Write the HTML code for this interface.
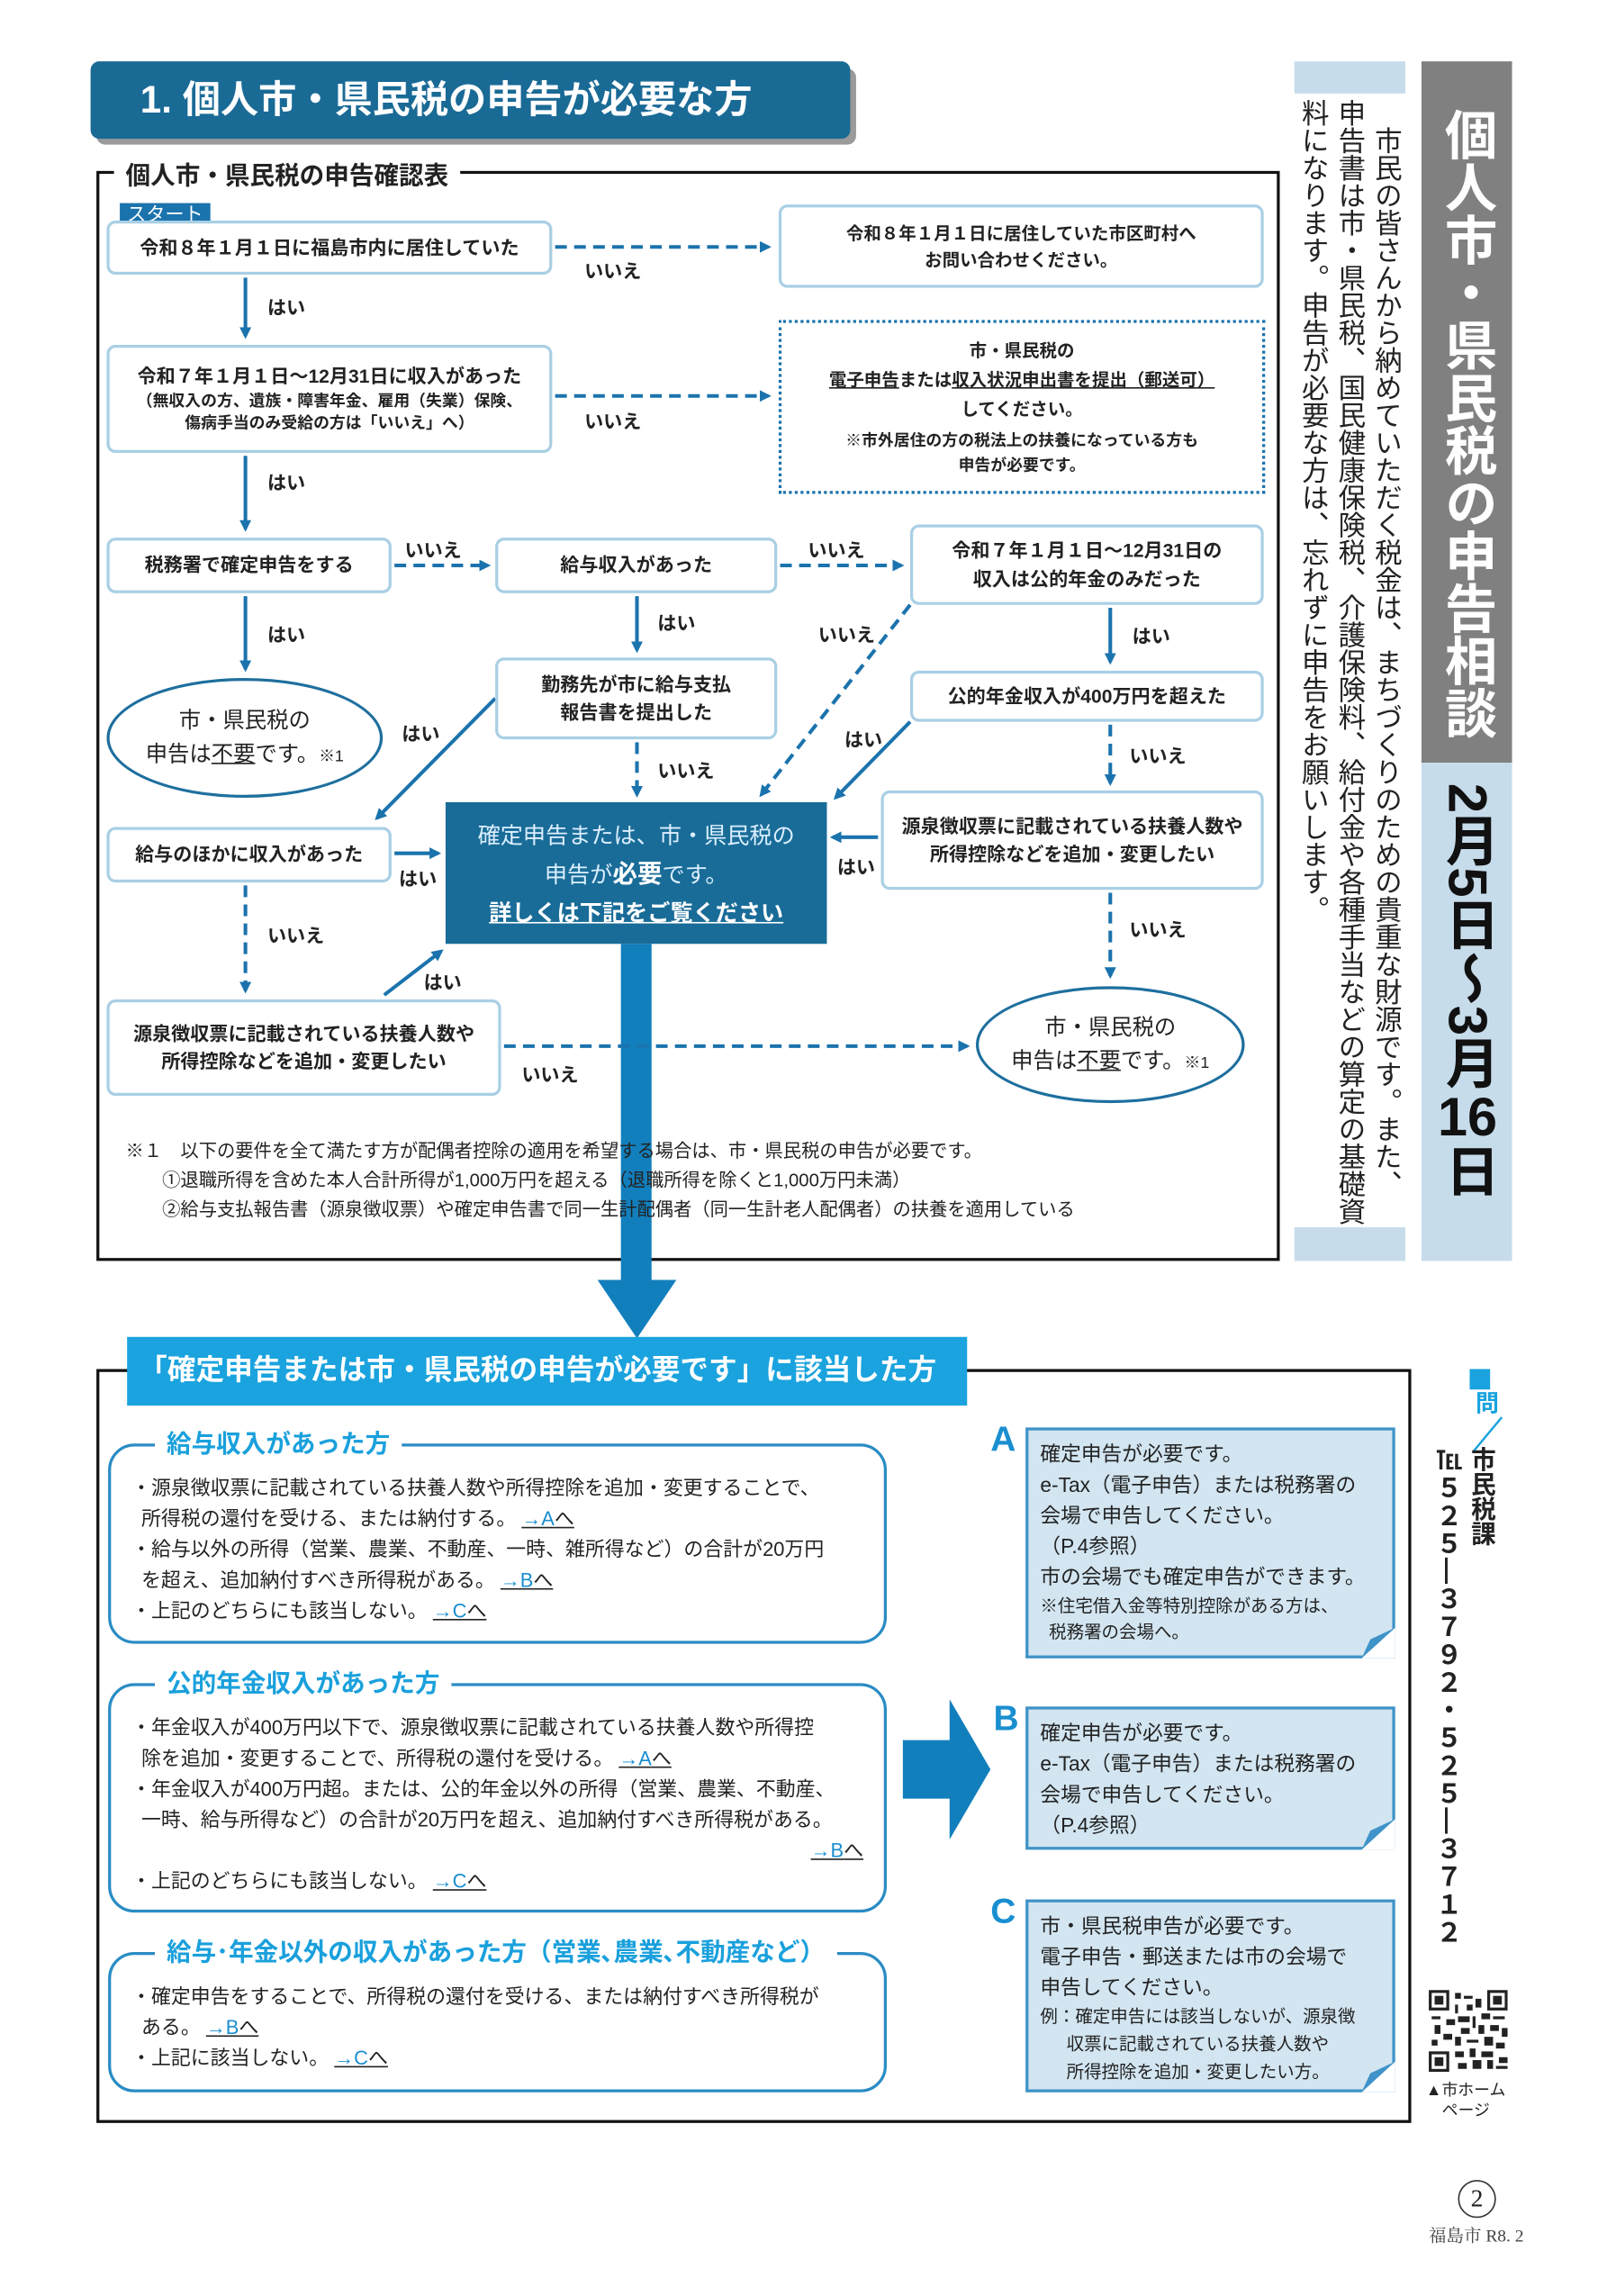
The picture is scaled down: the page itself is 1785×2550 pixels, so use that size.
<!DOCTYPE html>
<html><head><meta charset="utf-8">
<style>
html,body{margin:0;padding:0;background:#fff;}
body{width:1785px;height:2550px;overflow:hidden;position:relative;}
#s{position:absolute;left:0;top:0;width:1100px;height:1571px;transform:scale(1.62273);transform-origin:0 0;font-family:"Liberation Sans","Noto Sans CJK JP",sans-serif;color:#222;}
.a{position:absolute;}
.bx{position:absolute;box-sizing:border-box;border:2px solid #a9cfe4;border-radius:6px;background:#fff;font-weight:bold;font-size:13px;display:flex;flex-direction:column;align-items:center;justify-content:center;text-align:center;line-height:1.5;}
.ell{position:absolute;box-sizing:border-box;border:2px solid #1e6f9e;border-radius:50%;background:#fff;font-size:15px;display:flex;flex-direction:column;align-items:center;justify-content:center;text-align:center;line-height:1.55;}
.lb{position:absolute;font-size:13px;font-weight:bold;}
.sec{position:absolute;box-sizing:border-box;border:2px solid #2a8cc4;border-radius:18px;font-size:13.5px;line-height:21px;padding:14px 14px 0 14px;}
.st{position:absolute;background:#fff;color:#1aa0dc;font-size:17px;font-weight:bold;padding:0 8px;}
.lk{color:#1a8fd0;text-decoration:underline;text-decoration-color:#222;}
.abc{position:absolute;box-sizing:border-box;background:#d2e5f1;border:2px solid #3f93c8;font-size:14px;line-height:21px;padding:6px 8px;}
.L{position:absolute;color:#1a8fd0;font-size:24px;font-weight:bold;}
.v{writing-mode:vertical-rl;}
</style></head><body><div id="s">

<div class="a" style="left:66px;top:47px;width:520px;height:52px;background:#9a9a9a;border-radius:6px;"></div>
<div class="a" style="left:62px;top:42px;width:520px;height:53px;background:#1a6a96;border-radius:6px;color:#fff;font-size:26px;font-weight:bold;line-height:53px;padding-left:34px;box-sizing:border-box;">1. 個人市・県民税の申告が必要な方</div>

<div class="a" style="left:66px;top:117px;width:810px;height:746px;border:2px solid #111;box-sizing:border-box;"></div>
<div class="a" style="left:78px;top:106px;background:#fff;padding:0 8px;font-size:17px;font-weight:bold;">個人市・県民税の申告確認表</div>

<div class="a" style="left:425px;top:646px;width:21px;height:232px;background:#127fbd;"></div>
<div class="a" style="left:409px;top:876px;width:0;height:0;border-left:27px solid transparent;border-right:27px solid transparent;border-top:40px solid #127fbd;"></div>

<svg class="a" style="left:0;top:0" width="1100" height="1000">
<defs><marker id="m" markerWidth="8" markerHeight="8" refX="6" refY="4" orient="auto" markerUnits="userSpaceOnUse"><path d="M0,0L8,4L0,8z" fill="#1b73ad"/></marker></defs>
<g stroke="#1b73ad" stroke-width="2.5" fill="none" marker-end="url(#m)">
<line x1="380" y1="169" x2="526" y2="169" stroke-dasharray="8,5"/>
<line x1="380" y1="271" x2="526" y2="271" stroke-dasharray="8,5"/>
<line x1="168" y1="190" x2="168" y2="230"/>
<line x1="168" y1="312" x2="168" y2="362"/>
<line x1="270" y1="387" x2="334" y2="387" stroke-dasharray="8,5"/>
<line x1="534" y1="387" x2="617" y2="387" stroke-dasharray="8,5"/>
<line x1="168" y1="408" x2="168" y2="458"/>
<line x1="436" y1="408" x2="436" y2="445"/>
<line x1="760" y1="416" x2="760" y2="453"/>
<line x1="623" y1="414" x2="521" y2="544" stroke-dasharray="8,5"/>
<line x1="339" y1="478" x2="258" y2="560"/>
<line x1="436" y1="508" x2="436" y2="544" stroke-dasharray="8,5"/>
<line x1="623" y1="494" x2="572" y2="546"/>
<line x1="760" y1="496" x2="760" y2="536" stroke-dasharray="8,5"/>
<line x1="601" y1="573" x2="570" y2="573"/>
<line x1="760" y1="611" x2="760" y2="668" stroke-dasharray="8,5"/>
<line x1="270" y1="584" x2="300" y2="584"/>
<line x1="168" y1="606" x2="168" y2="678" stroke-dasharray="8,5"/>
<line x1="263" y1="681" x2="302" y2="651"/>
<line x1="345" y1="716" x2="662" y2="716" stroke-dasharray="8,5"/>
</g></svg>

<div class="lb" style="left:400px;top:175px">いいえ</div>
<div class="lb" style="left:183px;top:200px">はい</div>
<div class="lb" style="left:400px;top:278px">いいえ</div>
<div class="lb" style="left:183px;top:320px">はい</div>
<div class="lb" style="left:277px;top:366px">いいえ</div>
<div class="lb" style="left:553px;top:366px">いいえ</div>
<div class="lb" style="left:183px;top:424px">はい</div>
<div class="lb" style="left:450px;top:416px">はい</div>
<div class="lb" style="left:775px;top:425px">はい</div>
<div class="lb" style="left:560px;top:424px">いいえ</div>
<div class="lb" style="left:275px;top:492px">はい</div>
<div class="lb" style="left:450px;top:517px">いいえ</div>
<div class="lb" style="left:578px;top:496px">はい</div>
<div class="lb" style="left:773px;top:507px">いいえ</div>
<div class="lb" style="left:573px;top:583px">はい</div>
<div class="lb" style="left:773px;top:626px">いいえ</div>
<div class="lb" style="left:273px;top:591px">はい</div>
<div class="lb" style="left:183px;top:630px">いいえ</div>
<div class="lb" style="left:290px;top:662px">はい</div>
<div class="lb" style="left:357px;top:725px">いいえ</div>

<div class="a" style="left:82px;top:139px;width:62px;height:16px;background:#1b73ad;color:#fff;font-size:13px;line-height:16px;text-align:center;">スタート</div>
<div class="bx" style="left:73px;top:151px;width:305px;height:37px;">令和８年１月１日に福島市内に居住していた</div>
<div class="bx" style="left:533px;top:140px;width:332px;height:57px;font-size:12px;">令和８年１月１日に居住していた市区町村へ<br>お問い合わせください。</div>
<div class="bx" style="left:73px;top:236px;width:305px;height:74px;"><span>令和７年１月１日～12月31日に収入があった</span><span style="font-size:11px;line-height:1.35;">（無収入の方、遺族・障害年金、雇用（失業）保険、<br>傷病手当のみ受給の方は「いいえ」へ）</span></div>
<div class="a" style="left:533px;top:219px;width:333px;height:119px;box-sizing:border-box;border:2px dotted #1b73ad;font-size:12px;font-weight:bold;text-align:center;line-height:20px;padding-top:9px;">市・県民税の<br><u>電子申告</u>または<u>収入状況申出書を提出（郵送可）</u><br>してください。<div style="font-size:11px;line-height:17px;margin-top:4px;">※市外居住の方の税法上の扶養になっている方も<br>申告が必要です。</div></div>
<div class="bx" style="left:73px;top:368px;width:195px;height:38px;">税務署で確定申告をする</div>
<div class="bx" style="left:339px;top:368px;width:193px;height:38px;">給与収入があった</div>
<div class="bx" style="left:623px;top:359px;width:242px;height:55px;">令和７年１月１日～12月31日の<br>収入は公的年金のみだった</div>
<div class="ell" style="left:73px;top:464px;width:189px;height:82px;">市・県民税の<br><span>申告は<u>不要</u>です。<small style="font-size:11px">※1</small></span></div>
<div class="bx" style="left:339px;top:450px;width:193px;height:56px;">勤務先が市に給与支払<br>報告書を提出した</div>
<div class="bx" style="left:623px;top:459px;width:242px;height:35px;">公的年金収入が400万円を超えた</div>
<div class="bx" style="left:73px;top:566px;width:195px;height:38px;">給与のほかに収入があった</div>
<div class="a" style="left:305px;top:549px;width:261px;height:97px;background:#196c98;color:#dcefff;font-size:15.5px;text-align:center;line-height:26px;padding-top:11px;box-sizing:border-box;">確定申告または、市・県民税の<br>申告が<b style="color:#fff;font-size:17px">必要</b>です。<br><u style="color:#fff;font-weight:bold">詳しくは下記をご覧ください</u></div>
<div class="bx" style="left:603px;top:541px;width:262px;height:68px;">源泉徴収票に記載されている扶養人数や<br>所得控除などを追加・変更したい</div>
<div class="bx" style="left:73px;top:684px;width:270px;height:66px;">源泉徴収票に記載されている扶養人数や<br>所得控除などを追加・変更したい</div>
<div class="ell" style="left:668px;top:675px;width:184px;height:80px;">市・県民税の<br><span>申告は<u>不要</u>です。<small style="font-size:11px">※1</small></span></div>

<div class="a" style="left:86px;top:778px;font-size:12.5px;line-height:20px;">※１　以下の要件を全て満たす方が配偶者控除の適用を希望する場合は、市・県民税の申告が必要です。<br>&emsp;&emsp;①退職所得を含めた本人合計所得が1,000万円を超える（退職所得を除くと1,000万円未満）<br>&emsp;&emsp;②給与支払報告書（源泉徴収票）や確定申告書で同一生計配偶者（同一生計老人配偶者）の扶養を適用している</div>

<div class="a" style="left:886px;top:42px;width:76px;height:22px;background:#c6dceb;"></div>
<div class="a" style="left:886px;top:840px;width:76px;height:23px;background:#c6dceb;"></div>
<div class="a v" style="left:886px;top:68px;width:76px;height:770px;font-size:18.8px;line-height:25px;white-space:nowrap;">&emsp;市民の皆さんから納めていただく税金は、まちづくりのための貴重な財源です。また、<br>申告書は市・県民税、国民健康保険税、介護保険料、給付金や各種手当などの算定の基礎資<br>料になります。申告が必要な方は、忘れずに申告をお願いします。</div>
<div class="a" style="left:973px;top:42px;width:62px;height:480px;background:#808080;"></div>
<div class="a v" style="left:973px;top:60px;width:62px;height:460px;color:#fff;font-size:36px;font-weight:bold;line-height:62px;text-align:center;">個人市・県民税の申告相談</div>
<div class="a" style="left:973px;top:522px;width:62px;height:341px;background:#c6dceb;"></div>
<div class="a v" style="left:973px;top:536px;width:62px;height:320px;color:#111;font-size:37px;font-weight:bold;line-height:62px;">2月5日～3月<span style="text-combine-upright:all">16</span>日</div>

<div class="a" style="left:66px;top:937px;width:900px;height:516px;border:2px solid #111;box-sizing:border-box;"></div>
<div class="a" style="left:87px;top:915px;width:575px;height:47px;background:#1aa3de;color:#fff;font-size:19.5px;font-weight:bold;line-height:47px;padding-left:8px;box-sizing:border-box;">「確定申告または市・県民税の申告が必要です」に該当した方</div>

<div class="sec" style="left:74px;top:988px;width:533px;height:137px;padding-top:18px;">・源泉徴収票に記載されている扶養人数や所得控除を追加・変更することで、<br>&ensp;所得税の還付を受ける、または納付する。 <span class="lk">→A</span><u>へ</u><br>・給与以外の所得（営業、農業、不動産、一時、雑所得など）の合計が20万円<br>&ensp;を超え、追加納付すべき所得税がある。 <span class="lk">→B</span><u>へ</u><br>・上記のどちらにも該当しない。 <span class="lk">→C</span><u>へ</u></div>
<div class="st" style="left:106px;top:974px;">給与収入があった方</div>

<div class="sec" style="left:74px;top:1152px;width:533px;height:157px;padding-top:18px;">・年金収入が400万円以下で、源泉徴収票に記載されている扶養人数や所得控<br>&ensp;除を追加・変更することで、所得税の還付を受ける。 <span class="lk">→A</span><u>へ</u><br>・年金収入が400万円超。または、公的年金以外の所得（営業、農業、不動産、<br>&ensp;一時、給与所得など）の合計が20万円を超え、追加納付すべき所得税がある。<br><div style="text-align:right"><span class="lk">→B</span><u>へ</u></div>・上記のどちらにも該当しない。 <span class="lk">→C</span><u>へ</u></div>
<div class="st" style="left:106px;top:1138px;">公的年金収入があった方</div>

<div class="sec" style="left:74px;top:1336px;width:533px;height:96px;padding-top:18px;">・確定申告をすることで、所得税の還付を受ける、または納付すべき所得税が<br>&ensp;ある。 <span class="lk">→B</span><u>へ</u><br>・上記に該当しない。 <span class="lk">→C</span><u>へ</u></div>
<div class="st" style="left:106px;top:1322px;">給与･年金以外の収入があった方（営業､農業､不動産など）</div>

<svg class="a" style="left:616px;top:1161px" width="64" height="100"><path d="M2,30H34V2L62,50L34,98V70H2z" fill="#127fbd"/></svg>

<div class="L" style="left:678px;top:972px">A</div>
<div class="L" style="left:680px;top:1163px">B</div>
<div class="L" style="left:678px;top:1295px">C</div>
<div class="abc" style="left:702px;top:977px;width:253px;height:158px;">確定申告が必要です。<br>e-Tax（電子申告）または税務署の<br>会場で申告してください。<br>（P.4参照）<br>市の会場でも確定申告ができます。<div style="font-size:12px;line-height:18px">※住宅借入金等特別控除がある方は、<br>&ensp;税務署の会場へ。</div></div>
<div class="abc" style="left:702px;top:1168px;width:253px;height:98px;">確定申告が必要です。<br>e-Tax（電子申告）または税務署の<br>会場で申告してください。<br>（P.4参照）</div>
<div class="abc" style="left:702px;top:1300px;width:253px;height:132px;">市・県民税申告が必要です。<br>電子申告・郵送または市の会場で<br>申告してください。<div style="font-size:12px;line-height:19px">例：確定申告には該当しないが、源泉徴<br>&emsp;&ensp;収票に記載されている扶養人数や<br>&emsp;&ensp;所得控除を追加・変更したい方。</div></div>
<svg class="a" style="left:920px;top:1100px" width="40" height="340">
<path d="M35,14L35,35L12,35z" fill="#fff"/><path d="M35,14L12,35L18,22z" fill="#3f93c8"/>
<path d="M35,145L35,166L12,166z" fill="#fff"/><path d="M35,145L12,166L18,153z" fill="#3f93c8"/>
<path d="M35,311L35,332L12,332z" fill="#fff"/><path d="M35,311L12,332L18,319z" fill="#3f93c8"/>
</svg>

<div class="a" style="left:1006px;top:937px;width:14px;height:14px;background:#1aa3de;"></div>
<div class="a v" style="left:1003px;top:952px;font-size:16px;font-weight:bold;color:#1aa3de;">問</div>
<svg class="a" style="left:1002px;top:968px" width="30" height="28"><line x1="26" y1="2" x2="6" y2="26" stroke="#1aa3de" stroke-width="1.5"/></svg>
<div class="a v" style="left:1002px;top:990px;font-size:17px;font-weight:bold;line-height:22px;">市民税課</div>
<div class="a v" style="left:980px;top:990px;font-size:18px;font-weight:bold;line-height:22px;letter-spacing:1px;">℡５２５―３７９２・５２５―３７１２</div>

<svg class="a" style="left:978px;top:1362px" width="54" height="56" viewBox="0 0 27 28">
<rect width="27" height="28" fill="#fff"/>
<g fill="#222"><rect x="0" y="0" width="7" height="7"/><rect x="20" y="0" width="7" height="7"/><rect x="0" y="21" width="7" height="7"/></g>
<g fill="#fff"><rect x="1" y="1" width="5" height="5"/><rect x="21" y="1" width="5" height="5"/><rect x="1" y="22" width="5" height="5"/></g>
<g fill="#222"><rect x="2" y="2" width="3" height="3"/><rect x="22" y="2" width="3" height="3"/><rect x="2" y="23" width="3" height="3"/>
<path d="M9 1h2v2h-2zM12 2h3v1h-3zM9 5h1v3h-1zM13 5h2v2h-2zM16 3h2v3h-2zM1 9h3v1h-3zM6 10h3v2h-3zM10 9h4v2h-4zM15 9h1v4h-1zM18 8h3v2h-3zM22 9h4v1h-4zM2 12h2v3h-2zM11 13h3v2h-3zM17 12h2v3h-2zM21 12h3v2h-3zM25 13h2v3h-2zM5 15h3v2h-3zM9 16h2v3h-2zM13 17h4v1h-4zM19 16h3v3h-3zM1 17h2v2h-2zM23 18h3v2h-3zM9 21h3v2h-3zM14 20h2v3h-2zM18 21h4v2h-4zM10 25h3v2h-3zM15 24h3v3h-3zM20 24h2v3h-2zM24 23h3v2h-3zM23 26h4v1h-4z"/></g></svg>
<div class="a" style="left:976px;top:1424px;font-size:11px;line-height:14px;">▲市ホーム<br>&emsp;ページ</div>

<div class="a" style="left:998px;top:1492px;width:24px;height:24px;border:1.5px solid #333;border-radius:50%;text-align:center;font-size:17px;line-height:24px;font-family:'Liberation Serif',serif;">2</div>
<div class="a" style="left:978px;top:1521px;font-size:12px;font-family:'Liberation Serif','Noto Serif CJK SC',serif;color:#444;">福島市 R8. 2</div>

</div></body></html>
